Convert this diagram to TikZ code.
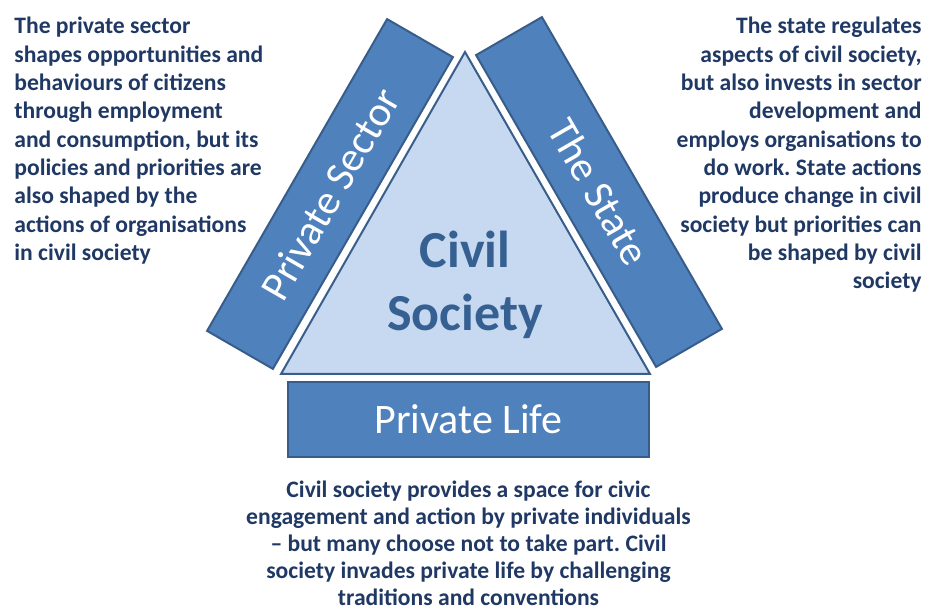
\documentclass[tikz,border=0pt]{standalone}
\usepackage{fontspec}
\setmainfont{Carlito}
\usetikzlibrary{positioning}
\definecolor{barfill}{HTML}{4F81BD}
\definecolor{barline}{HTML}{385D8A}
\definecolor{trifill}{HTML}{C6D9F1}
\definecolor{navy}{HTML}{1F3864}
\definecolor{civilblue}{HTML}{366092}
\frenchspacing

\begin{document}
\begin{tikzpicture}[x=0.5pt, y=0.5pt,
    bar/.style={draw=barline, fill=barfill, line width=1pt, text=white, inner sep=0pt,
      font=\fontsize{21}{25}\selectfont, minimum width=180pt, minimum height=38pt},
    desc/.style={text=navy, inner sep=0pt, font=\bfseries\fontsize{11.8}{14.15}\selectfont}]
    \useasboundingbox (0,0) rectangle (926,611);
    % the triangle
    \coordinate (apex) at (465,559);
    \coordinate (bl) at (281,237);
    \coordinate (br) at (650,237);
    \draw[draw=barline, fill=trifill, line width=1pt] (apex) -- (bl) -- (br) -- cycle;
    \node[text=civilblue, align=center, inner sep=0pt, font=\bfseries\fontsize{26}{31.5}\selectfont] (civil) at (465,326) {Civil\\Society};
    % the three bars
    \node[bar, rotate=60] (sector) at (330,417) {Private Sector};
    \node[bar, rotate=-60] (state) at (599,419) {The State};
    \node[bar, minimum width=180.5pt, minimum height=37.5pt] (life) at (468.5,191.5) {Private Life};
    % texts
    \node[desc, anchor=north west, align=left] (sectortext) at (14,594) {The private sector\\
      shapes opportunities and\\ behaviours of citizens\\ through employment\\
      and consumption, but its\\ policies and priorities are\\ also shaped by the\\
      actions of organisations\\ in civil society};
    \node[desc, anchor=north east, align=right] (statetext) at (922,594) {The state regulates\\
      aspects of civil society,\\ but also invests in sector\\ development and\\
      employs organisations to\\ do work. State actions\\ produce change in civil\\
      society but priorities can\\ be shaped by civil\\ society};
    \node[desc, below=11.5pt of life, align=center, font=\bfseries\fontsize{11.8}{13.4}\selectfont] (lifetext) {Civil society provides a space for civic\\
      engagement and action by private individuals\\ – but many choose not to take part. Civil\\
      society invades private life by challenging\\ traditions and conventions};
\end{tikzpicture}
\end{document}
